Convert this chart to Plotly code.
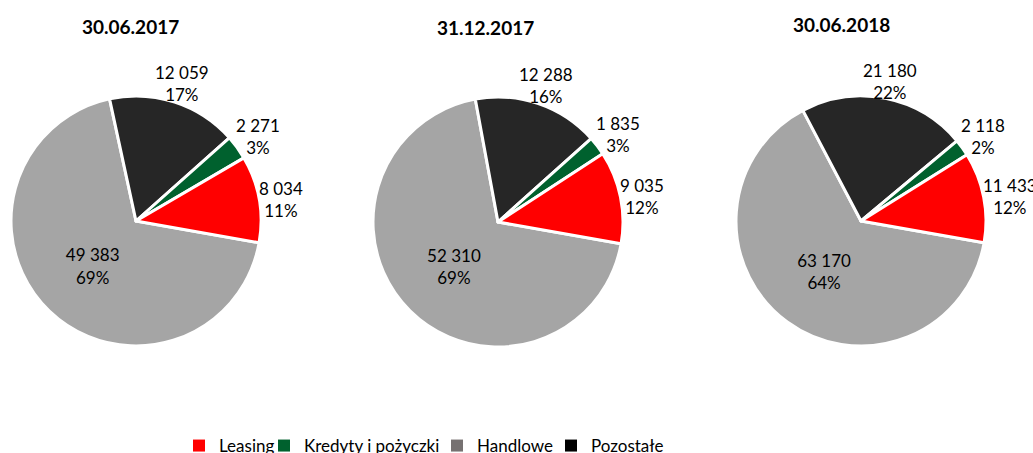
import math
import plotly.graph_objects as go

# ---- data ----
dates = ["30.06.2017", "31.12.2017", "30.06.2018"]
categories = ["Leasing", "Kredyty i pożyczki", "Handlowe", "Pozostałe"]
leasing = [8034, 9035, 11433]
kredyty = [2271, 1835, 2118]
handlowe = [49383, 52310, 63170]
pozostale = [12059, 12288, 21180]
# percentage labels as printed on the chart
leasing_pct = [11, 12, 12]
kredyty_pct = [3, 3, 2]
handlowe_pct = [69, 69, 64]
pozostale_pct = [17, 16, 22]

slice_colors = {"Leasing": "#FF0000", "Kredyty i pożyczki": "#00612E",
                "Handlowe": "#A5A5A5", "Pozostałe": "#262626"}
legend_colors = {"Leasing": "#FF0000", "Kredyty i pożyczki": "#00612E",
                 "Handlowe": "#767171", "Pozostałe": "#000000"}

W, H = 1033, 453
FONT = "Lato, 'Open Sans', sans-serif"
centers = [(136, 221), (498, 222), (861, 221)]
title_pos = [(130, 27), (485, 28), (841, 25)]
legend_left = [179, 264, 437, 551]
R = 125
ROT = 100

fig = go.Figure()

# slices drawn clockwise from ROT: Handlowe, Pozostałe, Kredyty, Leasing
slice_order = ["Handlowe", "Pozostałe", "Kredyty i pożyczki", "Leasing"]
series = {"Leasing": leasing, "Kredyty i pożyczki": kredyty,
          "Handlowe": handlowe, "Pozostałe": pozostale}
pcts = {"Leasing": leasing_pct, "Kredyty i pożyczki": kredyty_pct,
        "Handlowe": handlowe_pct, "Pozostałe": pozostale_pct}

for i, d in enumerate(dates):
    cx, cy = centers[i]
    vals = [series[c][i] for c in slice_order]
    fig.add_trace(go.Pie(
        labels=slice_order,
        values=vals,
        customdata=[pcts[c][i] for c in slice_order],
        sort=False,
        direction="clockwise",
        rotation=ROT,
        marker=dict(colors=[slice_colors[c] for c in slice_order],
                    line=dict(color="white", width=3)),
        texttemplate="%{value:,.0f}<br>%{customdata}%",
        textposition=["inside", "none", "none", "none"],
        insidetextorientation="horizontal",
        textfont=dict(family=FONT, size=17, color="black"),
        domain=dict(x=[(cx - R) / W, (cx + R) / W],
                    y=[1 - (cy + R) / H, 1 - (cy - R) / H]),
        showlegend=False,
        hoverinfo="label+value+percent",
    ))

    # outside labels for the smaller slices, placed along each slice's bisector
    tot = sum(vals)
    ang = ROT
    for c, v in zip(slice_order, vals):
        span = 360.0 * v / tot
        mid = math.radians(ang + span / 2)
        ang += span
        if c == "Handlowe":
            continue
        txt = f"{v:,}".replace(",", " ")
        w = sum(9.9 if ch.isdigit() else 3.3 for ch in txt)
        hw, hh = w / 2, 19
        s, co = math.sin(mid), math.cos(mid)
        dist = R + 0.9 * (hw * abs(s) + hh * abs(co))
        x = cx + dist * s
        y = cy - dist * co + 4
        fig.add_annotation(text=f"{txt}<br>{pcts[c][i]}%", x=x / W, y=1 - y / H,
                           xref="paper", yref="paper", showarrow=False,
                           xanchor="center", yanchor="middle", align="center",
                           font=dict(family=FONT, size=17, color="black"))

# legend entries in the reference order, one legend box each
legend_layout = {}
for k, c in enumerate(categories):
    lname = "legend" if k == 0 else f"legend{k + 1}"
    fig.add_trace(go.Scatter(
        x=[None], y=[None], mode="markers", name=c,
        marker=dict(symbol="square", size=12, color=legend_colors[c]),
        showlegend=True, legend=lname,
    ))
    legend_layout[lname] = dict(
        orientation="h", x=legend_left[k] / W, xanchor="left",
        y=1 - 428 / H, yanchor="top", bgcolor="rgba(0,0,0,0)",
        font=dict(family=FONT, size=17, color="black"),
        itemclick=False, itemdoubleclick=False)

for i, d in enumerate(dates):
    tx, ty = title_pos[i]
    fig.add_annotation(text="<b>" + d + "</b>", x=tx / W, y=1 - ty / H,
                       xref="paper", yref="paper", showarrow=False,
                       xanchor="center", yanchor="middle",
                       font=dict(family=FONT, size=19, color="black"))

fig.update_layout(
    width=W, height=H,
    margin=dict(l=0, r=0, t=0, b=0, autoexpand=False),
    paper_bgcolor="white", plot_bgcolor="white",
    separators=", ",
    xaxis=dict(visible=False), yaxis=dict(visible=False),
    font=dict(family=FONT),
    **legend_layout,
)

fig.write_html("out.html", config={"displayModeBar": False},
               post_script="document.body.style.margin='0px';")
